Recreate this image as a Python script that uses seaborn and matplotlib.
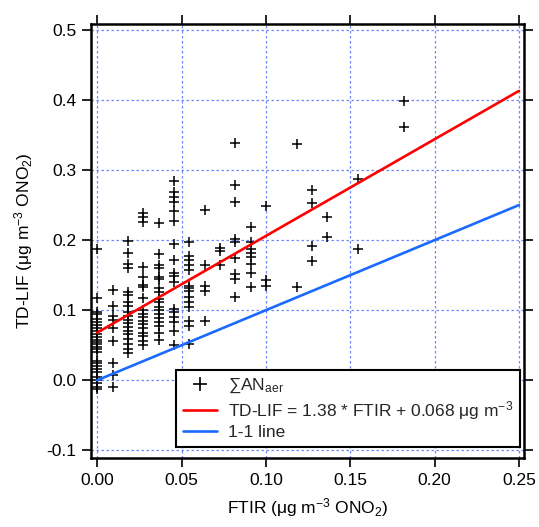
import matplotlib
matplotlib.use("Agg")
import matplotlib.pyplot as plt
import seaborn as sns
import pandas as pd
import numpy as np
from matplotlib.lines import Line2D

sns.set_theme(style="white")
plt.rcParams['font.family'] = ['Liberation Sans', 'DejaVu Sans']
plt.rcParams['mathtext.fontset'] = 'custom'
plt.rcParams['mathtext.rm'] = 'Liberation Sans'
plt.rcParams['mathtext.it'] = 'Liberation Sans:italic'
plt.rcParams['mathtext.bf'] = 'Liberation Sans:bold'

# ---- data ----
ftir_levels = [0.0, 0.0091, 0.0182, 0.0273, 0.0364, 0.0455, 0.0545, 0.0636,
               0.0727, 0.0818, 0.0909, 0.1000, 0.1182, 0.1273, 0.1364, 0.1545, 0.1818]

y_000 = [0.188, 0.117, 0.098, 0.095, 0.088, 0.083, 0.079, 0.075, 0.071, 0.066, 0.062,
         0.058, 0.055, 0.052, 0.048, 0.044, 0.040, 0.028, 0.024, 0.020, 0.016, 0.012,
         0.005, 0.000, -0.004, -0.009, -0.013]
y_009 = [0.129, 0.106, 0.092, 0.086, 0.074, 0.056, 0.025, 0.008, -0.010]
y_018 = [0.199, 0.182, 0.166, 0.160, 0.126, 0.121, 0.111, 0.106, 0.097, 0.091, 0.086,
         0.081, 0.076, 0.071, 0.066, 0.059, 0.052, 0.045, 0.039]
y_027 = [0.238, 0.233, 0.226, 0.162, 0.147, 0.136, 0.133, 0.117, 0.100, 0.095, 0.090,
         0.085, 0.080, 0.074, 0.068, 0.063, 0.056, 0.050]
y_036 = [0.225, 0.180, 0.165, 0.160, 0.148, 0.144, 0.131, 0.126, 0.116, 0.112, 0.104,
         0.100, 0.095, 0.089, 0.083, 0.078, 0.067, 0.058]
y_045 = [0.285, 0.268, 0.261, 0.254, 0.242, 0.228, 0.194, 0.171, 0.153, 0.149, 0.140,
         0.102, 0.097, 0.090, 0.083, 0.071, 0.051]
y_055 = [0.197, 0.177, 0.171, 0.165, 0.158, 0.135, 0.131, 0.127, 0.119, 0.112, 0.105,
         0.085, 0.078, 0.052]
y_064 = [0.243, 0.164, 0.134, 0.127, 0.085]
y_073 = [0.189, 0.184, 0.164]
y_082 = [0.338, 0.278, 0.255, 0.202, 0.198, 0.174, 0.152, 0.145, 0.119]
y_091 = [0.219, 0.197, 0.188, 0.181, 0.176, 0.166, 0.153, 0.133]
y_100 = [0.248, 0.143, 0.134]
y_118 = [0.337, 0.133]
y_127 = [0.272, 0.253, 0.191, 0.170]
y_136 = [0.233, 0.204]
y_155 = [0.287, 0.188]
y_182 = [0.398, 0.362]

columns = [y_000, y_009, y_018, y_027, y_036, y_045, y_055, y_064, y_073,
           y_082, y_091, y_100, y_118, y_127, y_136, y_155, y_182]

ftir = []
tdlif = []
for xv, ys in zip(ftir_levels, columns):
    ftir += [xv] * len(ys)
    tdlif += ys
df = pd.DataFrame({"FTIR": ftir, "TDLIF": tdlif})

fit_slope = 1.38
fit_intercept = 0.068
line_x = [0.0, 0.25]
fit_df = pd.DataFrame({"x": line_x, "y": [fit_slope * v + fit_intercept for v in line_x]})
one_df = pd.DataFrame({"x": line_x, "y": line_x})

# ---- figure ----
fig = plt.figure(figsize=(5.39, 5.27), dpi=100)
ax = fig.add_axes([0.1688, 0.1309, 0.8034, 0.8236])

grid_color = "#6f88ff"
for v in [0.0, 0.05, 0.10, 0.15, 0.20, 0.25]:
    ax.axvline(v, color=grid_color, lw=0.9, ls=(0, (2, 2)), zorder=0)
for v in [-0.1, 0.0, 0.1, 0.2, 0.3, 0.4, 0.5]:
    ax.axhline(v, color=grid_color, lw=0.9, ls=(0, (2, 2)), zorder=0)

sns.scatterplot(data=df, x="FTIR", y="TDLIF", marker="+", color="black",
                s=42, linewidth=1.1, ax=ax, zorder=3, legend=False)
sns.lineplot(data=fit_df, x="x", y="y", color="#ff0000", lw=1.9, ax=ax, zorder=4)
sns.lineplot(data=one_df, x="x", y="y", color="#1a6aff", lw=1.9, ax=ax, zorder=4)

ax.set_xlim(-0.0037, 0.2530)
ax.set_ylim(-0.111, 0.5085)
ax.set_xticks([0.0, 0.05, 0.10, 0.15, 0.20, 0.25])
ax.set_xticklabels(["0.00", "0.05", "0.10", "0.15", "0.20", "0.25"])
ax.set_yticks([-0.1, 0.0, 0.1, 0.2, 0.3, 0.4, 0.5])
ax.set_yticklabels(["-0.1", "0.0", "0.1", "0.2", "0.3", "0.4", "0.5"])

ax.tick_params(axis="both", which="major", direction="out", length=6.5, width=1.2,
               color="black", labelsize=12.5, labelcolor="black", pad=4,
               top=True, right=True, bottom=True, left=True)
for sp in ax.spines.values():
    sp.set_visible(True)
    sp.set_color("black")
    sp.set_linewidth(1.8)

ax.set_xlabel("FTIR (μg m$^{-3}$ ONO$_2$)", fontsize=12.5, color="black", labelpad=6)
ax.set_ylabel("TD-LIF (μg m$^{-3}$ ONO$_2$)", fontsize=12.5, color="black", labelpad=8)

handles = [
    Line2D([], [], ls="none", marker="+", color="black", markersize=10, markeredgewidth=1.2),
    Line2D([], [], color="#ff0000", lw=1.9),
    Line2D([], [], color="#1a6aff", lw=1.9),
]
labels = ["∑AN$_{\\mathrm{aer}}$",
          "TD-LIF = 1.38 * FTIR + 0.068 μg m$^{-3}$",
          "1-1 line"]
x0 = (0.0465 - (-0.0037)) / (0.2530 + 0.0037)
x1 = (0.2508 - (-0.0037)) / (0.2530 + 0.0037)
y0 = (-0.0955 + 0.111) / (0.5085 + 0.111)
leg = ax.legend(handles, labels, loc="lower left",
                bbox_to_anchor=(x0, y0, x1 - x0, 0.18), mode="expand",
                fontsize=12.5, frameon=True, fancybox=False, borderaxespad=0,
                handlelength=2.0, handletextpad=0.6, labelspacing=0.2,
                borderpad=0.4, framealpha=1)
leg.get_frame().set_edgecolor("black")
leg.get_frame().set_linewidth(1.5)
leg.set_zorder(10)

fig.savefig("out.png", dpi=100)
